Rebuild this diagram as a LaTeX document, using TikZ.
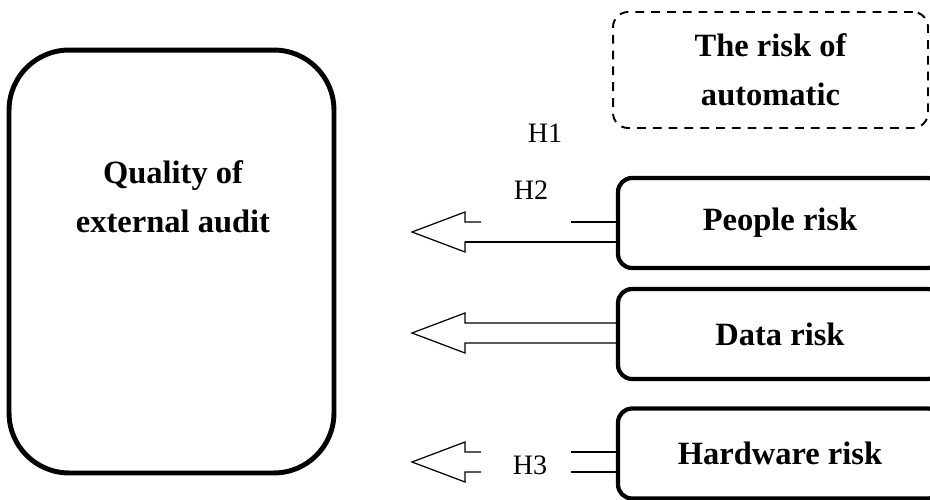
\documentclass[tikz,border=0pt]{standalone}
\usepackage{fontspec}
\setmainfont{Liberation Serif}
\usetikzlibrary{calc}
\newcommand{\boxfont}{\fontsize{18.5}{28}\selectfont\bfseries}
\begin{document}
\begin{tikzpicture}[x=0.02cm,y=-0.02cm,
    bigbox/.style={draw,line width=2.8pt,rounded corners=1.2cm,
      minimum width=6.5cm,minimum height=8.46cm},
    riskbox/.style={draw,line width=2.4pt,rounded corners=0.28cm,
      minimum width=6.48cm,minimum height=1.8cm,font=\boxfont},
    dashbox/.style={draw,line width=1.1pt,dash pattern=on 5pt off 4pt,
      rounded corners=0.3cm,minimum width=6.3cm,minimum height=2.32cm,
      align=center,font=\boxfont},
    txt/.style={align=center,font=\boxfont},
    shaft/.style={line width=0.7pt,line join=miter},
    hlab/.style={font=\fontsize{16}{18}\selectfont}]
  \useasboundingbox (0,0) rectangle (930,500);
  \clip (0,0) rectangle (930,500);
  % dependent variable
  \node[bigbox] (qbox) at (171.5,261.5) {};
  \node[txt] (qtext) at (173,197) {Quality of\\external audit};
  % independent variables
  \node[dashbox] (auto) at (770.5,70) {The risk of\\automatic};
  \node[riskbox] (people) at (780,223) {People risk};
  \node[riskbox] (data) at (780,334) {Data risk};
  \node[riskbox] (hardware) at (780,453.5) {Hardware risk};
  % arrow tips
  \coordinate (tipP) at (412,232);
  \coordinate (tipD) at (412,333);
  \coordinate (tipH) at (412,462);
  % broken arrows
  \foreach \t in {tipP,tipH}
    \draw[shaft] ($(\t)+(69,-10)$) -- ++(-16,0) -- ++(0,-10) -- (\t)
      -- ++(53,20) -- ++(0,-10) -- ++(16,0);
  \draw[shaft] ($(tipP)+(159,-10)$) -- ($(tipP -| people.west)+(0,-10)$);
  \draw[shaft] ($(tipP)+(53,10)$) -- ($(tipP -| people.west)+(0,10)$);
  \draw[shaft] ($(tipH)+(159,-10)$) -- ($(tipH -| hardware.west)+(0,-10)$);
  \draw[shaft] ($(tipH)+(159,10)$) -- ($(tipH -| hardware.west)+(0,10)$);
  % full arrow
  \draw[shaft] ($(tipD -| data.west)+(0,-10)$) -- ($(tipD)+(53,-10)$)
    -- ++(0,-10) -- (tipD) -- ++(53,20) -- ++(0,-10)
    -- ($(tipD -| data.west)+(0,10)$);
  % hypotheses
  \node[hlab] (h1) at (545,133) {H1};
  \node[hlab] (h2) at (531,190) {H2};
  \node[hlab] (h3) at (530,465) {H3};
\end{tikzpicture}
\end{document}
